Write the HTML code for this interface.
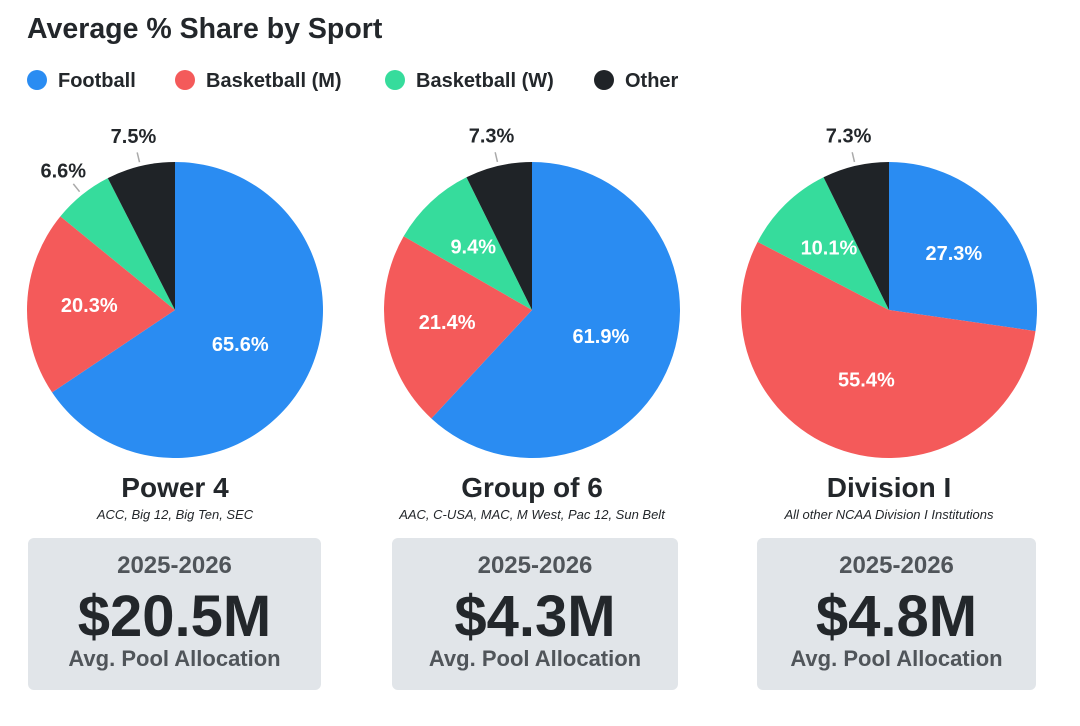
<!DOCTYPE html>
<html><head><meta charset="utf-8"><style>
body{margin:0;background:#fff;font-family:"Liberation Sans",sans-serif;}
#wrap{position:relative;width:1080px;height:726px;overflow:hidden;}
.t{position:absolute;white-space:nowrap;}
.box{position:absolute;top:538px;height:152px;background:#e1e5e9;border-radius:6px;}
.box div{position:absolute;left:0;right:0;text-align:center;font-weight:bold;}
</style></head><body>
<div id="wrap">
<div class="t" style="left:27px;top:13px;font-size:28.5px;font-weight:bold;color:#23272b">Average % Share by Sport</div>
<div id="legend"></div>
<svg id="svg" width="1080" height="726" style="position:absolute;left:0;top:0"></svg>
</div>
<script>
const categories=["Football","Basketball (M)","Basketball (W)","Other"];
const colors=["#2a8cf2","#f45a5a","#36dc9c","#1f2327"];
const groups=["Power 4","Group of 6","Division I"];
const subtitles=["ACC, Big 12, Big Ten, SEC","AAC, C-USA, MAC, M West, Pac 12, Sun Belt","All other NCAA Division I Institutions"];
const p4Values=[65.6,20.3,6.6,7.5];
const g6Values=[61.9,21.4,9.4,7.3];
const d1Values=[27.3,55.4,10.1,7.3];
const amounts=["$20.5M","$4.3M","$4.8M"];
const seriesValues=[p4Values,g6Values,d1Values];
const centersX=[175,532,889];
const boxLeft=[28,392,757];
const boxWidth=[293,286,279];
const cy=310,R=148;
const NS="http://www.w3.org/2000/svg";
const svg=document.getElementById('svg');
const wrap=document.getElementById('wrap');
const legX=[27,175,385,594];
categories.forEach((c,i)=>{
  const d=document.createElement('div');
  d.className='t';
  
  
  d.style.left=legX[i]+'px';d.style.top='70px';d.style.fontSize='20px';d.style.fontWeight='bold';d.style.color='#23272b';
  d.innerHTML='<span style="display:inline-block;width:20px;height:20px;border-radius:50%;background:'+colors[i]+';vertical-align:-3px;margin-right:11px"></span>'+c;
  wrap.appendChild(d);
});
function pt(cx,frac,r){const a=frac*2*Math.PI;return [cx+r*Math.sin(a),cy-r*Math.cos(a)];}
function txt(x,y,s,fill,name){
  const t=document.createElementNS(NS,'text');
  t.setAttribute('x',x);t.setAttribute('y',y);t.setAttribute('text-anchor','middle');
  t.setAttribute('dominant-baseline','central');t.setAttribute('font-size','20');t.setAttribute('font-weight','bold');
  t.setAttribute('fill',fill);t.setAttribute('font-family','Liberation Sans, sans-serif');
  
  
  t.textContent=s;svg.appendChild(t);
}
seriesValues.forEach((vals,g)=>{
  const cx=centersX[g];
  const tot=vals.reduce((a,b)=>a+b,0);
  let acc=0;
  vals.forEach((v,i)=>{
    const f0=acc/tot,f1=(acc+v)/tot;acc+=v;
    const [x0,y0]=pt(cx,f0,R),[x1,y1]=pt(cx,f1,R);
    const p=document.createElementNS(NS,'path');
    p.setAttribute('d',`M${cx},${cy}L${x0},${y0}A${R},${R} 0 ${(f1-f0)>0.5?1:0} 1 ${x1},${y1}Z`);
    p.setAttribute('fill',colors[i]);
    
    
    svg.appendChild(p);
    const fm=(f0+f1)/2;
    const label=v.toFixed(1)+'%';
    if(v<8){
      const [a,b]=pt(cx,fm,R+4),[c,d]=pt(cx,fm,R+14);
      const l=document.createElementNS(NS,'line');
      l.setAttribute('x1',a);l.setAttribute('y1',b);l.setAttribute('x2',c);l.setAttribute('y2',d);
      l.setAttribute('stroke','#aaa');l.setAttribute('stroke-width','1.5');
      
      
      svg.appendChild(l);
      const [lx,ly]=pt(cx,fm,R+30);
      txt(lx,ly,label,'#23272b','slice-label');
    }else{
      const rr=v>40?R*0.5:R*0.58;
      const [lx,ly]=pt(cx,fm,rr);
      txt(lx,ly,label,'#fff','slice-label');
    }
  });
  const h=document.createElement('div');h.className='t';
  
  
  h.style.cssText=`left:${cx-200}px;width:400px;text-align:center;top:472px;font-size:28px;font-weight:bold;color:#23272b`;
  h.textContent=groups[g];wrap.appendChild(h);
  const s=document.createElement('div');s.className='t';
  
  
  s.style.cssText=`left:${cx-200}px;width:400px;text-align:center;top:507px;font-size:13px;font-style:italic;color:#23272b`;
  s.textContent=subtitles[g];wrap.appendChild(s);
  const b=document.createElement('div');b.className='box';
  
  
  b.style.left=boxLeft[g]+'px';b.style.width=boxWidth[g]+'px';
  b.innerHTML=`<div style="top:14px;font-size:24px;color:#50555a">2025-2026</div><div style="top:45px;font-size:58px;color:#23272b">${amounts[g]}</div><div style="top:108px;font-size:22px;color:#50555a">Avg. Pool Allocation</div>`;
  wrap.appendChild(b);
});
</script>
</body></html>
